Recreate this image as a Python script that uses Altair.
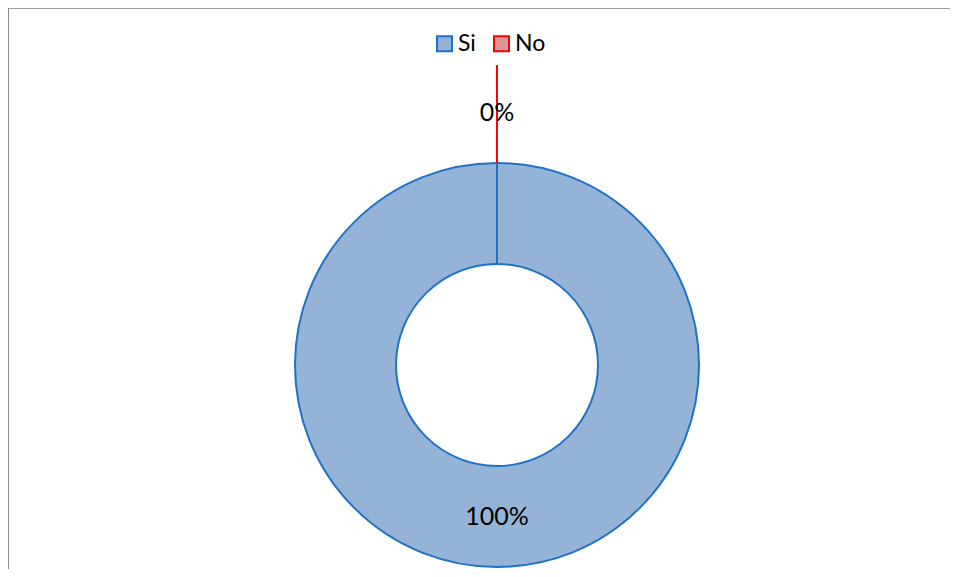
import altair as alt
import pandas as pd

categories = ["Si", "No"]
values = [100, 0]
labels = ["100%", "0%"]

fill_colors = ["#95B3D7", "#D99694"]
stroke_colors = ["#1F72C4", "#FF0000"]

df = pd.DataFrame({"cat": categories, "value": values, "label": labels})

CX, CY = 489, 357
R_OUT, R_IN, R_LEAD = 202, 101, 300
FONT = "Lato"

theta = alt.Theta("value:Q", stack=True, scale=alt.Scale(domain=[0, 100]))
order = alt.Order("idx:Q")

base = alt.Chart(df).transform_window(idx="row_number()")

legend = alt.Legend(
    title=None, orient="none", direction="horizontal",
    legendX=425, legendY=24, symbolType="square", symbolSize=225,
    symbolStrokeWidth=2, labelFontSize=23, labelFont=FONT, labelColor="#000000",
    labelOffset=2, columnPadding=14, padding=0, symbolOpacity=1,
)

donut = base.mark_arc(outerRadius=R_OUT, innerRadius=R_IN, strokeWidth=2).encode(
    theta=theta,
    order=order,
    fill=alt.Fill("cat:N", scale=alt.Scale(domain=categories, range=fill_colors), legend=legend),
    stroke=alt.Stroke("cat:N", scale=alt.Scale(domain=categories, range=stroke_colors), legend=legend),
    x=alt.value(CX), y=alt.value(CY),
)

edge = base.transform_filter(alt.datum.cat == "No").mark_arc(
    outerRadius=R_OUT, innerRadius=R_IN, fillOpacity=0, stroke="#1F72C4", strokeWidth=2
).encode(theta=theta, order=order, x=alt.value(CX), y=alt.value(CY))

leader = base.transform_filter(alt.datum.cat == "No").mark_arc(
    outerRadius=R_LEAD, innerRadius=R_OUT, fillOpacity=0, stroke="#FF0000", strokeWidth=2
).encode(theta=theta, order=order, x=alt.value(CX), y=alt.value(CY))

lab_si = base.transform_filter(alt.datum.cat == "Si").mark_text(
    radius=152, fontSize=25, font=FONT, color="#000000", baseline="middle", align="center"
).encode(theta=theta, order=order, text="label:N", x=alt.value(CX), y=alt.value(CY))

lab_no = base.transform_filter(alt.datum.cat == "No").mark_text(
    radius=252, fontSize=25, font=FONT, color="#000000", baseline="middle", align="center"
).encode(theta=theta, order=order, text="label:N", x=alt.value(CX), y=alt.value(CY))

frame_df = pd.DataFrame({"k": [0]})
left_rule = alt.Chart(frame_df).mark_rule(color="#8C8C8C", strokeWidth=2).encode(
    x=alt.value(0), y=alt.value(0), y2=alt.value(569)
)
top_rule = alt.Chart(frame_df).mark_rule(color="#8C8C8C", strokeWidth=1.5).encode(
    x=alt.value(0), x2=alt.value(950), y=alt.value(0)
)

chart = alt.layer(left_rule, top_rule, donut, edge, leader, lab_si, lab_no).properties(
    width=942, height=561, padding=0, autosize=alt.AutoSizeParams(type="none")
).configure_view(stroke=None).configure(background="#FFFFFF")

chart.save("out.html", embed_options={"renderer": "svg", "actions": False})
